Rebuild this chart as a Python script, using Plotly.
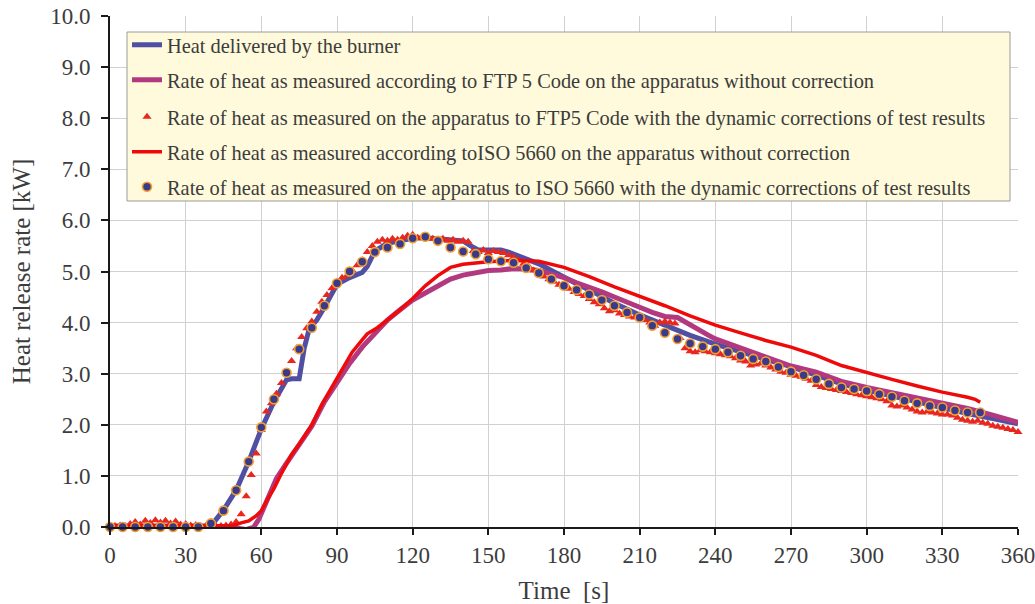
import plotly.graph_objects as go

# ---------------- data ----------------
burner_t = [0, 10, 20, 30, 38, 41, 45, 50, 55, 60, 65, 70, 72, 75, 77, 79, 82, 85, 90, 95, 98, 100, 102,
            105, 110, 115, 120, 125, 130, 135, 140, 143, 146, 150, 155, 158, 162, 166, 170, 175, 180,
            185, 190, 195, 200, 210, 220, 230, 240, 250, 260, 270, 280, 290, 300, 310, 320, 330, 340,
            350, 360]
burner_q = [0.02, 0.02, 0.02, 0.02, 0.02, 0.08, 0.33, 0.72, 1.28, 1.92, 2.45, 2.88, 2.9, 2.9, 3.5, 3.88,
            4.05, 4.3, 4.75, 4.88, 4.93, 4.98, 5.1, 5.4, 5.55, 5.6, 5.65, 5.66, 5.64, 5.62, 5.6, 5.5,
            5.42, 5.42, 5.42, 5.38, 5.3, 5.22, 5.15, 5.02, 4.88, 4.76, 4.64, 4.5, 4.38, 4.15, 3.95,
            3.75, 3.58, 3.42, 3.28, 3.14, 2.96, 2.8, 2.68, 2.56, 2.45, 2.33, 2.22, 2.12, 2.02]

ftp_t = [0, 20, 40, 50, 54, 57, 59, 61, 63, 66, 70, 75, 80, 85, 90, 95, 100, 105, 110, 115, 120, 125,
         130, 135, 140, 145, 150, 155, 160, 165, 170, 175, 180, 185, 190, 195, 200, 205, 210, 215,
         220, 225, 230, 237, 240, 250, 260, 270, 280, 290, 300, 310, 320, 330, 340, 350, 360]
ftp_q = [0.0, 0.0, 0.0, -0.02, -0.05, 0.0, 0.15, 0.38, 0.6, 0.95, 1.25, 1.6, 1.97, 2.45, 2.82, 3.2,
         3.52, 3.8, 4.05, 4.25, 4.44, 4.58, 4.72, 4.85, 4.93, 4.98, 5.02, 5.03, 5.06, 5.05, 5.02,
         4.95, 4.88, 4.78, 4.7, 4.6, 4.5, 4.41, 4.3, 4.2, 4.12, 4.1, 3.95, 3.76, 3.68, 3.5, 3.31,
         3.15, 3.03, 2.85, 2.73, 2.63, 2.52, 2.42, 2.32, 2.19, 2.05]

ftp_dyn_t = list(range(0, 362, 2))
ftp_dyn_q = [0.02, 0.02, 0.03, 0.02, 0.06, 0.1, 0.05, 0.12, 0.08, 0.13, 0.09, 0.12, 0.07, 0.11, 0.05,
             0.06, 0.03, 0.04, 0.02, 0.02, 0.02,            # 0-40
             0.02, 0.02, 0.03, 0.05, 0.1, 0.25, 0.6, 1.02, 1.44, 1.9,   # 42-60
             2.26, 2.42, 2.61, 2.82, 3.02, 3.25, 3.5, 3.72, 3.89, 4.02,  # 62-80
             4.21, 4.41, 4.54, 4.67, 4.78, 4.88, 4.92, 5.02, 5.12, 5.22,  # 82-100
             5.38, 5.5, 5.58, 5.62, 5.6, 5.64, 5.62, 5.66, 5.7, 5.72,    # 102-120
             5.66, 5.68, 5.66, 5.64, 5.62, 5.64, 5.6, 5.62, 5.58, 5.6,   # 122-140
             5.58, 5.4, 5.38, 5.42, 5.36, 5.4, 5.38, 5.36, 5.32, 5.28,   # 142-160
             5.22, 5.15, 5.1, 5.02, 4.96, 4.9, 4.85, 4.8, 4.74, 4.7,     # 162-180
             4.66, 4.6, 4.56, 4.52, 4.46, 4.4, 4.36, 4.28, 4.22, 4.24,   # 182-200
             4.18, 4.15, 4.12, 4.1, 4.08, 4.05, 4.0, 3.94, 4.0, 4.02,    # 202-220
             4.0, 3.98, 3.7, 3.5, 3.44, 3.42, 3.46, 3.44, 3.42, 3.4,     # 222-240
             3.38, 3.36, 3.34, 3.3, 3.26, 3.24, 3.16, 3.18, 3.2, 3.16,   # 242-260
             3.12, 3.08, 3.04, 3.02, 2.98, 2.96, 2.94, 2.9, 2.86, 2.78,  # 262-280
             2.74, 2.72, 2.7, 2.68, 2.66, 2.64, 2.62, 2.6, 2.58, 2.56,   # 282-300
             2.54, 2.52, 2.5, 2.46, 2.38, 2.36, 2.38, 2.34, 2.3, 2.26,   # 302-320
             2.24, 2.26, 2.24, 2.22, 2.2, 2.2, 2.18, 2.14, 2.1, 2.08,    # 322-340
             2.06, 2.08, 2.04, 2.02, 1.98, 1.96, 1.94, 1.92, 1.9, 1.86]  # 342-360

iso_t = [0, 20, 40, 46, 49, 52, 55, 58, 60, 62, 65, 68, 70, 72, 75, 78, 80, 84, 88, 92, 96, 100, 102,
         106, 110, 115, 120, 125, 130, 135, 140, 145, 150, 160, 170, 180, 190, 200, 210, 220, 230,
         240, 250, 260, 270, 280, 290, 300, 310, 320, 330, 340, 343, 345]
iso_q = [0.02, 0.02, 0.02, 0.02, 0.03, 0.08, 0.12, 0.22, 0.32, 0.5, 0.75, 1.05, 1.25, 1.42, 1.62,
         1.85, 2.0, 2.4, 2.75, 3.1, 3.42, 3.66, 3.78, 3.9, 4.05, 4.25, 4.47, 4.72, 4.92, 5.08, 5.14,
         5.17, 5.19, 5.22, 5.2, 5.08, 4.9, 4.7, 4.52, 4.33, 4.13, 3.95, 3.8, 3.65, 3.52, 3.36, 3.16,
         3.02, 2.89, 2.76, 2.64, 2.54, 2.5, 2.44]

iso_dyn_t = list(range(0, 350, 5))
iso_dyn_q = [0.0, 0.0, 0.0, 0.0, 0.0, 0.0, 0.0, 0.0, 0.07, 0.32, 0.72, 1.28, 1.95, 2.5, 3.02, 3.48,
             3.9, 4.33, 4.77, 5.0, 5.19, 5.38, 5.47, 5.54, 5.65, 5.68, 5.6, 5.47, 5.39, 5.34, 5.24,
             5.2, 5.17, 5.07, 4.97, 4.85, 4.72, 4.64, 4.55, 4.44, 4.33, 4.2, 4.1, 3.94, 3.8, 3.68,
             3.59, 3.53, 3.48, 3.42, 3.35, 3.29, 3.24, 3.13, 3.04, 2.97, 2.89, 2.8, 2.73, 2.7, 2.66,
             2.6, 2.55, 2.47, 2.42, 2.37, 2.34, 2.28, 2.24, 2.24]

names = [
    "Heat delivered by the burner",
    "Rate of heat as measured according to FTP 5 Code on the apparatus without correction",
    "Rate of heat as measured on the apparatus to FTP5 Code with the dynamic corrections of test results",
    "Rate of heat as measured according toISO 5660 on the apparatus without correction",
    "Rate of heat as measured on the apparatus to ISO 5660 with the dynamic corrections of test results",
]
x_ticks = list(range(0, 361, 30))
y_ticks = [i * 1.0 for i in range(0, 11)]
y_tick_text = [f"{v:.1f}" for v in y_ticks]

# ---------------- figure ----------------
FONT = "Liberation Serif, Times New Roman, serif"
TXT = "#3c3c3c"

fig = go.Figure()
fig.add_trace(go.Scatter(x=burner_t, y=burner_q, mode="lines", name=names[0], legend="legend",
                         line=dict(color="#4F4FA3", width=5)))
fig.add_trace(go.Scatter(x=ftp_t, y=ftp_q, mode="lines", name=names[1], legend="legend2",
                         line=dict(color="#B2397F", width=5)))
fig.add_trace(go.Scatter(x=ftp_dyn_t, y=ftp_dyn_q, mode="markers", name=names[2], legend="legend3",
                         cliponaxis=False,
                         marker=dict(symbol="triangle-up", size=8, color="#E8281E")))
fig.add_trace(go.Scatter(x=iso_t, y=iso_q, mode="lines", name=names[3], legend="legend4",
                         line=dict(color="#EE0A0A", width=3.5)))
fig.add_trace(go.Scatter(x=iso_dyn_t, y=iso_dyn_q, mode="markers", name=names[4], legend="legend5",
                         cliponaxis=False,
                         marker=dict(symbol="circle", size=9, color="#3A3A8C",
                                     line=dict(color="#F2A030", width=1.6))))

W, H = 1035, 604
L, R, T, B = 110, 1018, 16, 527          # page pixels of plot area


def px(xp):
    return (xp - L) / (R - L)


def py(yp):
    return (B - yp) / (B - T)


fig.add_shape(type="rect", xref="paper", yref="paper",
              x0=px(127), x1=px(1010), y0=py(201), y1=py(32),
              fillcolor="#FFFADB", line=dict(color="#9A9A9A", width=1), layer="above")

row_centers = [45, 80, 117, 152, 187]
legend_layouts = {}
for i, yc in enumerate(row_centers):
    key = "legend" if i == 0 else f"legend{i + 1}"
    legend_layouts[key] = dict(
        x=px(127), y=py(yc), xanchor="left", yanchor="middle",
        bgcolor="rgba(0,0,0,0)", borderwidth=0,
        font=dict(family=FONT, size=20.4, color=TXT),
    )

fig.update_layout(
    width=W, height=H,
    margin=dict(l=L, r=W - R, t=T, b=H - B, pad=0),
    paper_bgcolor="white", plot_bgcolor="white",
    font=dict(family=FONT, color=TXT),
    showlegend=True,
    **legend_layouts,
)
fig.update_xaxes(
    range=[0, 360], tickvals=x_ticks, ticktext=[str(v) for v in x_ticks],
    showgrid=True, gridcolor="#D0D0D0", gridwidth=1, zeroline=False,
    showline=True, linecolor="#1a1a1a", linewidth=2,
    ticks="outside", ticklen=6, tickwidth=2, tickcolor="#1a1a1a",
    tickfont=dict(family=FONT, size=23, color=TXT),
    ticklabeloverflow="allow",
    automargin=False,
    title=dict(text="Time\u00a0 [s]", font=dict(family=FONT, size=25, color=TXT), standoff=19),
)
fig.update_yaxes(
    range=[0, 10], tickvals=y_ticks, ticktext=y_tick_text,
    showgrid=True, gridcolor="#D0D0D0", gridwidth=1, zeroline=False,
    showline=True, linecolor="#1a1a1a", linewidth=2,
    ticks="outside", ticklen=7, tickwidth=2, tickcolor="#1a1a1a",
    tickfont=dict(family=FONT, size=23, color=TXT),
    ticklabelstandoff=6,
    ticklabeloverflow="allow",
    automargin=False,
    title=dict(text="Heat release rate [kW]", font=dict(family=FONT, size=25, color=TXT), standoff=12),
)

# remove the browser's default 8px body margin so the figure sits at the page origin
fig.write_html("out.html", config={"displayModeBar": False},
               post_script="document.body.style.margin='0px';")
